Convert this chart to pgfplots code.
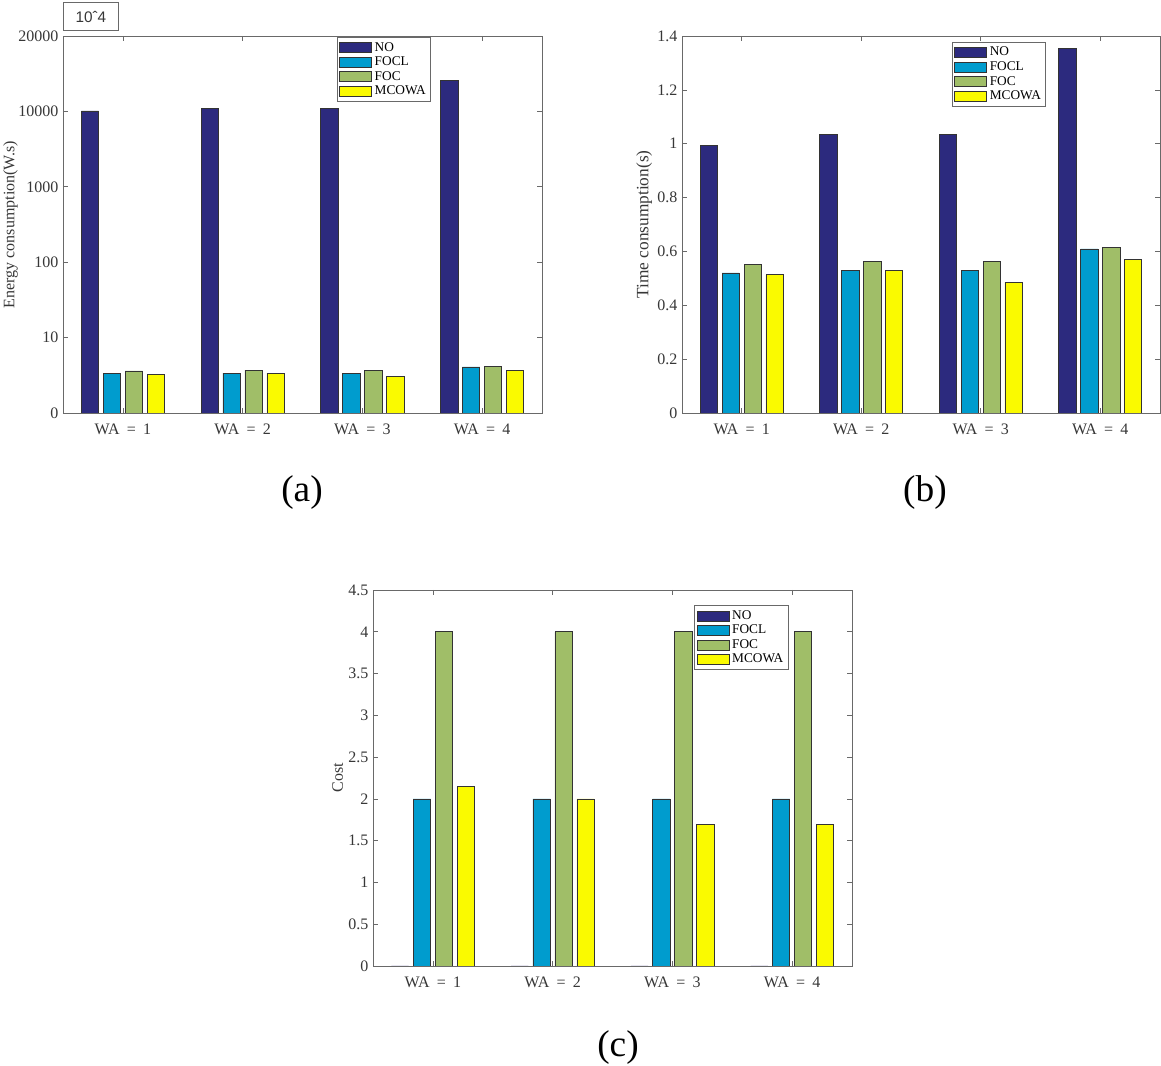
\documentclass[border=0pt]{standalone}
\usepackage{fontspec}
\setmainfont{Liberation Serif}
\newfontfamily\arialfont{Liberation Sans}
\usepackage{pgfplots}
\pgfplotsset{compat=1.18}

\definecolor{cNO}{RGB}{44,42,126}
\definecolor{cFOCL}{RGB}{0,156,206}
\definecolor{cFOC}{RGB}{160,190,104}
\definecolor{cMC}{RGB}{250,250,0}
\definecolor{axgray}{RGB}{105,105,105}
\definecolor{txtgray}{RGB}{55,55,55}

\newcommand{\wa}[1]{WA\hspace{0.45em}=\hspace{0.45em}#1}

\pgfplotsset{
  panel/.style={
    scale only axis,
    xmin=0.5, xmax=4.5, xtick={1,2,3,4},
    xticklabels={\wa{1},\wa{2},\wa{3},\wa{4}},
    ymin=0, tick pos=both,
    tick align=inside, major tick length=4pt,
    axis line style={axgray, line width=0.6pt},
    tick style={axgray, line width=0.5pt},
    ticklabel style={font=\fontsize{12}{13}\selectfont, text=txtgray},
    xticklabel style={yshift=-5pt},
    label style={font=\fontsize{12}{13}\selectfont, text=txtgray},
    ylabel style={yshift=-3pt},
    /pgf/number format/assume math mode=true,
    legend cell align=left,
    legend style={font=\fontsize{10}{11}\selectfont, draw=axgray, line width=0.6pt,
      inner sep=1.5pt, row sep=-1.2pt, anchor=north west},
    legend image code/.code={\draw[#1] (0pt,-3.75pt) rectangle (24pt,3.75pt);},
  },
  sNO/.style={ybar, bar width=0.145, bar shift=-0.275, fill=cNO, draw=black!80, line width=0.5pt},
  sFOCL/.style={ybar, bar width=0.145, bar shift=-0.092, fill=cFOCL, draw=black!80, line width=0.5pt},
  sFOC/.style={ybar, bar width=0.145, bar shift=0.092, fill=cFOC, draw=black!80, line width=0.5pt},
  sMC/.style={ybar, bar width=0.145, bar shift=0.275, fill=cMC, draw=black!80, line width=0.5pt},
}

\begin{document}
\begin{tikzpicture}
\useasboundingbox (0,0) rectangle (870.75pt,799.5pt);

% (a) energy, plotted on log positions 0..5
\begin{axis}[panel, at={(47.25pt,489.75pt)}, anchor=south west,
  width=359.25pt, height=282.75pt,
  ymax=5, ytick={0,1,2,3,4,5},
  yticklabels={0,10,100,1000,10000,20000},
  ylabel={Energy consumption(W.s)},
  ylabel style={yshift=-3.5pt},
  legend style={at={(0.572,0.997)}}]
\addplot[sNO] coordinates {(1,4.006) (2,4.04) (3,4.04) (4,4.41)};
\addplot[sFOCL] coordinates {(1,0.521) (2,0.53) (3,0.53) (4,0.61)};
\addplot[sFOC] coordinates {(1,0.557) (2,0.57) (3,0.57) (4,0.614)};
\addplot[sMC] coordinates {(1,0.517) (2,0.53) (3,0.486) (4,0.57)};
\legend{NO,FOCL,FOC,MCOWA}
\end{axis}
\node[draw=axgray, line width=0.6pt, anchor=south west, minimum width=41.25pt,
  minimum height=21pt, font=\arialfont\fontsize{11.5}{13}\selectfont, text=txtgray]
  at (47.25pt,776.25pt) {10ˆ4};

% (b) time
\begin{axis}[panel, at={(511.5pt,489.75pt)}, anchor=south west,
  width=358.5pt, height=282.75pt,
  ymax=1.4, ytick={0,0.2,0.4,0.6,0.8,1,1.2,1.4},
  ylabel={Time consumption(s)},
  ylabel style={font=\fontsize{13}{14}\selectfont},
  legend style={at={(0.565,0.984)}}]
\addplot[sNO] coordinates {(1,0.995) (2,1.035) (3,1.035) (4,1.353)};
\addplot[sFOCL] coordinates {(1,0.520) (2,0.530) (3,0.530) (4,0.609)};
\addplot[sFOC] coordinates {(1,0.553) (2,0.562) (3,0.562) (4,0.614)};
\addplot[sMC] coordinates {(1,0.514) (2,0.530) (3,0.486) (4,0.569)};
\legend{NO,FOCL,FOC,MCOWA}
\end{axis}

% (c) cost
\begin{axis}[panel, at={(279.75pt,75pt)}, anchor=south west,
  width=359.25pt, height=282pt,
  ymax=4.5, ytick={0,0.5,1,1.5,2,2.5,3,3.5,4,4.5},
  ylabel={Cost},
  legend style={at={(0.671,0.959)}}]
\addplot[sNO] coordinates {(1,0) (2,0) (3,0) (4,0)};
\addplot[sFOCL] coordinates {(1,2) (2,2) (3,2) (4,2)};
\addplot[sFOC] coordinates {(1,4) (2,4) (3,4) (4,4)};
\addplot[sMC] coordinates {(1,2.15) (2,2) (3,1.69) (4,1.69)};
\legend{NO,FOCL,FOC,MCOWA}
\end{axis}

\node[font=\fontsize{28}{30}\selectfont] at (226.5pt,429.75pt) {(a)};
\node[font=\fontsize{28}{30}\selectfont] at (693.75pt,429.75pt) {(b)};
\node[font=\fontsize{28}{30}\selectfont] at (463.5pt,13.5pt) {(c)};
\end{tikzpicture}
\end{document}
